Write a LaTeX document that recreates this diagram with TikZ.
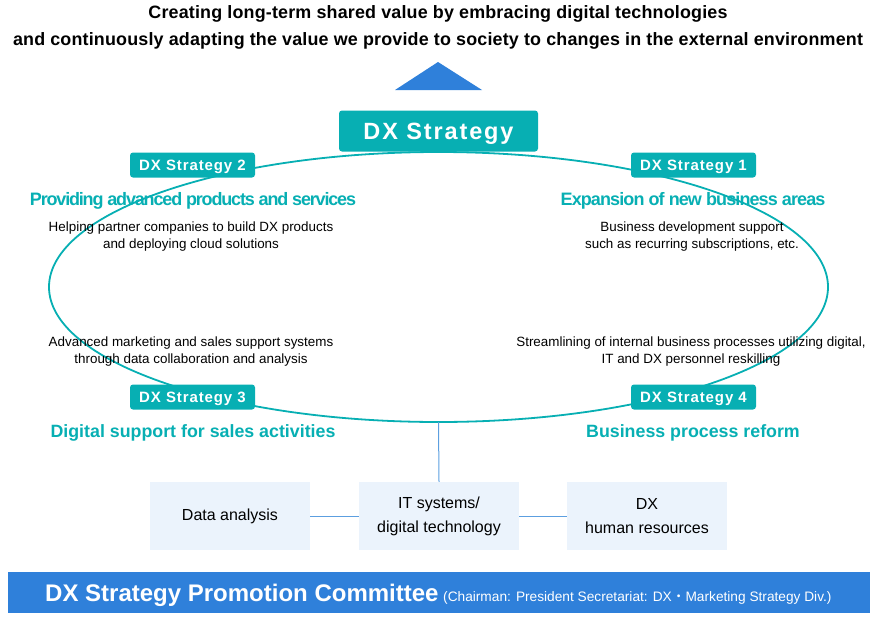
\documentclass[tikz,border=0pt]{standalone}
\usepackage{fontspec}
\setmainfont{Liberation Sans}
\newfontfamily\cjkfont{Noto Sans CJK JP}
\definecolor{teal1}{HTML}{07AFB3}
\definecolor{blue1}{HTML}{2F80DA}
\definecolor{lblue}{HTML}{EBF3FC}
\definecolor{lline}{HTML}{5C9FE0}
\tikzset{
  titletext/.style={font=\bfseries\fontsize{17.9}{20}\selectfont\addfontfeatures{LetterSpace=1}, align=center},
  tagbox/.style={fill=teal1, rounded corners=3pt, text=white, minimum width=125pt, minimum height=25pt, inner sep=0pt, text height=10.8pt, text depth=0pt, font=\bfseries\fontsize{15}{16}\selectfont\addfontfeatures{LetterSpace=6}},
  heading/.style={text=teal1, anchor=base, inner sep=0pt, font=\bfseries\fontsize{18}{20}\selectfont\addfontfeatures{LetterSpace=-5}},
  headingb/.style={text=teal1, anchor=base, inner sep=0pt, font=\bfseries\fontsize{17.8}{20}\selectfont},
  desc/.style={font=\fontsize{13.4}{17}\selectfont, align=center, inner sep=0pt},
  basebox/.style={fill=lblue, minimum width=160pt, minimum height=68pt, inner sep=0pt, align=center, font=\fontsize{16}{24}\selectfont},
  conn/.style={draw=lline, line width=1pt}
}
\begin{document}
\begin{tikzpicture}[x=1pt,y=-1pt]
\useasboundingbox (0,0) rectangle (880,616);
% title
\node[titletext] (t1) at (438,14) {Creating long-term shared value by embracing digital technologies};
\node[titletext] (t2) at (438,41) {and continuously adapting the value we provide to society to changes in the external environment};
\fill[blue1] (438,62) -- (482,90) -- (395,90) -- cycle;
% ellipse
\draw[teal1, line width=1.8pt] (438.5,287) ellipse [x radius=389.5, y radius=135];
\coordinate (ebot) at (438.5,422);
% main box
\node[fill=teal1, rounded corners=3pt, minimum width=199pt, minimum height=41pt, inner sep=0pt, text height=16.8pt, text depth=0pt, text=white, font=\bfseries\fontsize{23.5}{26}\selectfont\addfontfeatures{LetterSpace=8}] (dx) at (438.5,131) {DX Strategy};
% tags
\node[tagbox] (s2) at (192.5,165) {DX Strategy 2};
\node[tagbox] (s1) at (693.5,165) {DX Strategy 1};
\node[tagbox] (s3) at (192.5,397) {DX Strategy 3};
\node[tagbox] (s4) at (693.5,397) {DX Strategy 4};
% headings
\node[heading, font=\bfseries\fontsize{18}{20}\selectfont\addfontfeatures{LetterSpace=-6.5}] (h2) at (193,205.5) {Providing advanced products and services};
\node[heading] (h1) at (693,205.5) {Expansion of new business areas};
\node[headingb] (h3) at (193,437.5) {Digital support for sales activities};
\node[headingb] (h4) at (693,437.5) {Business process reform};
% descriptions
\node[desc] (d2) at (191,237) {Helping partner companies to build DX products\\and deploying cloud solutions};
\node[desc] (d1) at (692,237) {Business development support\\such as recurring subscriptions, etc.};
\node[desc] (d3) at (191,352) {Advanced marketing and sales support systems\\through data collaboration and analysis};
\node[desc] (d4) at (691,352) {Streamlining of internal business processes utilizing digital,\\IT and DX personnel reskilling};
% base boxes
\node[basebox] (da) at (230,516) {\raisebox{-2pt}{Data analysis}};
\node[basebox] (it) at (439,516) {\raisebox{-1pt}{IT systems/}\\\raisebox{-1pt}{digital technology}};
\node[basebox] (hr) at (647,516) {\raisebox{-1pt}{DX}\\\raisebox{-1pt}{human resources}};
\draw[conn] (ebot) -- (it.north);
\draw[conn] (da.east) -- (it.west);
\draw[conn] (it.east) -- (hr.west);
% bottom bar
\node[fill=blue1, minimum width=862pt, minimum height=41pt, inner sep=0pt] (bar) at (439,592.5) {};
\node[anchor=base west, text=white, inner sep=0pt, font=\bfseries\fontsize{24}{26}\selectfont] (bt) at (45,601) {DX Strategy Promotion Committee};
\node[anchor=base west, text=white, inner sep=0pt, font=\fontsize{13.7}{15}\selectfont] (bs) at (443,601) {(Chairman: President Secretariat: DX{\cjkfont ・}Marketing Strategy Div.)};
\end{tikzpicture}
\end{document}
